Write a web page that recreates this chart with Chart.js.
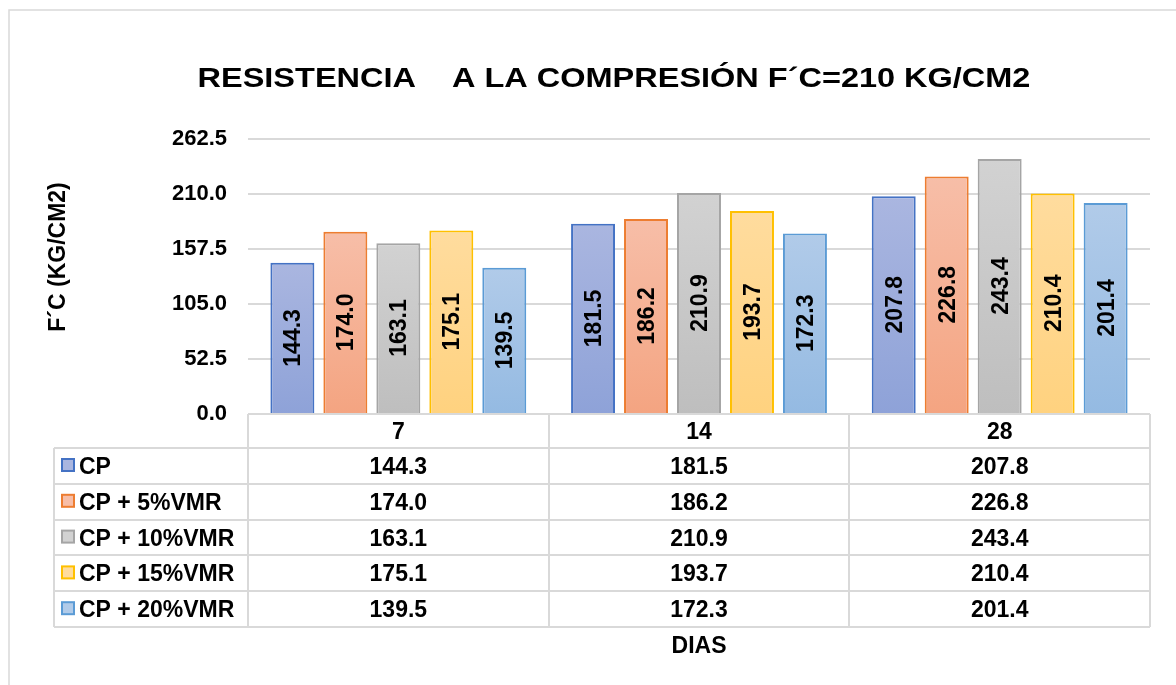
<!DOCTYPE html>
<html>
<head>
<meta charset="utf-8">
<script src="https://cdn.jsdelivr.net/npm/chart.js@4.4.1/dist/chart.umd.min.js"></script>
<style>
  html, body { margin: 0; padding: 0; background: #fff; }
  canvas { display: block; }
</style>
</head>
<body>
<canvas id="grafico" width="1176" height="685"></canvas>
<script>
// datos
const titulo = 'RESISTENCIA    A LA COMPRESIÓN F´C=210 KG/CM2';
const tituloY = 'F´C (KG/CM2)';
const tituloX = 'DIAS';
const dias = ['7', '14', '28'];
const series = ['CP', 'CP + 5%VMR', 'CP + 10%VMR', 'CP + 15%VMR', 'CP + 20%VMR'];
const cp = [144.3, 181.5, 207.8];
const cp5 = [174.0, 186.2, 226.8];
const cp10 = [163.1, 210.9, 243.4];
const cp15 = [175.1, 193.7, 210.4];
const cp20 = [139.5, 172.3, 201.4];
const ticksY = [0, 52.5, 105, 157.5, 210, 262.5];

const valores = [cp, cp5, cp10, cp15, cp20];
const bordes = ['#4472C4', '#ED7D31', '#A5A5A5', '#FFC000', '#5B9BD5'];
const arriba = ['#AAB6E0', '#F7BEA8', '#D2D2D2', '#FFDC9E', '#B1CBE9'];
const abajo = ['#8EA2D8', '#F4A481', '#BEBEBE', '#FFD27F', '#94BAE2'];

const FUENTE = 'Arial, "Liberation Sans", sans-serif';
const GRIS = '#D9D9D9';

// degradado por barra, como en Excel
function relleno(i) {
  return function (context) {
    const chart = context.chart;
    if (!chart.chartArea || !chart.scales.y) return arriba[i];
    const y = chart.scales.y;
    const v = context.raw;
    const top = y.getPixelForValue(v);
    const base = y.getPixelForValue(0);
    if (!isFinite(top) || base - top < 1) return arriba[i];
    const g = chart.ctx.createLinearGradient(0, top, 0, base);
    g.addColorStop(0, arriba[i]);
    g.addColorStop(1, abajo[i]);
    return g;
  };
}

const tablaPlugin = {
  id: 'tabla',
  afterDatasetsDraw(chart) {
    const ctx = chart.ctx;
    ctx.save();
    ctx.font = 'bold 23px ' + FUENTE;
    ctx.fillStyle = '#000';
    ctx.textAlign = 'center';
    ctx.textBaseline = 'alphabetic';
    chart.data.datasets.forEach((ds, i) => {
      chart.getDatasetMeta(i).data.forEach((bar, j) => {
        ctx.save();
        ctx.translate(bar.x, (bar.y + bar.base) / 2);
        ctx.rotate(-Math.PI / 2);
        ctx.fillText(ds.data[j].toFixed(1), 0, 8);
        ctx.restore();
      });
    });
    ctx.restore();
  },
  afterDraw(chart) {
    const ctx = chart.ctx;
    const area = chart.chartArea;
    const x = chart.scales.x;
    const anchoCat = (area.right - area.left) / dias.length;
    const izq = 54;
    const cabTop = area.bottom;
    const cabAlto = 34;
    const filaAlto = 35.8;
    const filasTop = cabTop + cabAlto;
    const filasFin = filasTop + filaAlto * series.length;

    ctx.save();
    // marco exterior
    ctx.strokeStyle = GRIS;
    ctx.lineWidth = 1.5;
    ctx.strokeRect(9, 10, 1200, 700);

    // lineas de la tabla
    ctx.lineWidth = 2;
    ctx.beginPath();
    ctx.moveTo(area.left, cabTop); ctx.lineTo(area.right, cabTop);
    for (let r = 0; r <= series.length; r++) {
      const yy = Math.round(filasTop + r * filaAlto);
      ctx.moveTo(izq, yy); ctx.lineTo(area.right, yy);
    }
    for (let c = 0; c <= dias.length; c++) {
      const xx = Math.round(area.left + c * anchoCat);
      ctx.moveTo(xx, cabTop); ctx.lineTo(xx, filasFin);
    }
    ctx.moveTo(izq, filasTop); ctx.lineTo(izq, filasFin);
    ctx.stroke();

    // textos de la tabla
    ctx.fillStyle = '#000';
    ctx.font = 'bold 23px ' + FUENTE;
    ctx.textAlign = 'center';
    ctx.textBaseline = 'alphabetic';
    dias.forEach((d, j) => {
      ctx.fillText(d, x.getPixelForValue(j), cabTop + 25);
    });
    series.forEach((s, i) => {
      const yTop = filasTop + i * filaAlto;
      ctx.textAlign = 'center';
      valores[i].forEach((v, j) => {
        ctx.fillText(v.toFixed(1), x.getPixelForValue(j), yTop + 26);
      });
      // muestra de color
      ctx.fillStyle = arriba[i];
      ctx.fillRect(62, yTop + 11, 12, 12);
      ctx.strokeStyle = bordes[i];
      ctx.lineWidth = 2;
      ctx.strokeRect(62, yTop + 11, 12, 12);
      ctx.fillStyle = '#000';
      ctx.textAlign = 'left';
      ctx.fillText(s, 79, yTop + 26);
    });

    // titulo eje X
    ctx.textAlign = 'center';
    ctx.fillText(tituloX, (area.left + area.right) / 2, 653);

    // titulo eje Y
    ctx.save();
    ctx.translate(65, 257);
    ctx.rotate(-Math.PI / 2);
    ctx.fillText(tituloY, 0, 0);
    ctx.restore();

    // titulo principal (un poco ensanchado)
    ctx.save();
    ctx.font = 'bold 28px ' + FUENTE;
    ctx.translate(614, 87);
    ctx.scale(1.16, 1);
    ctx.fillText(titulo, 0, 0);
    ctx.restore();

    ctx.restore();
  }
};

const ctx = document.getElementById('grafico').getContext('2d');
const grafico = new Chart(ctx, {
  type: 'bar',
  data: {
    labels: dias,
    datasets: series.map((s, i) => ({
      label: s,
      data: valores[i],
      backgroundColor: relleno(i),
      borderColor: bordes[i],
      borderWidth: 2,
      categoryPercentage: 0.881,
      barPercentage: 0.83
    }))
  },
  options: {
    responsive: false,
    animation: false,
    devicePixelRatio: 1,
    layout: { padding: { left: 0, right: 26, top: 139, bottom: 271 } },
    plugins: {
      legend: { display: false },
      title: { display: false },
      tooltip: { enabled: false }
    },
    scales: {
      x: { display: false },
      y: {
        min: 0,
        max: 262.5,
        afterFit(scale) { scale.width = 248; },
        afterBuildTicks(scale) { scale.ticks = ticksY.map(v => ({ value: v })); },
        border: { display: false },
        grid: { color: GRIS, lineWidth: 2, drawTicks: false },
        ticks: {
          padding: 21,
          color: '#000',
          font: { family: FUENTE, size: 22, weight: 'bold' },
          callback: v => Number(v).toFixed(1)
        }
      }
    }
  },
  plugins: [tablaPlugin]
});
</script>
</body>
</html>
